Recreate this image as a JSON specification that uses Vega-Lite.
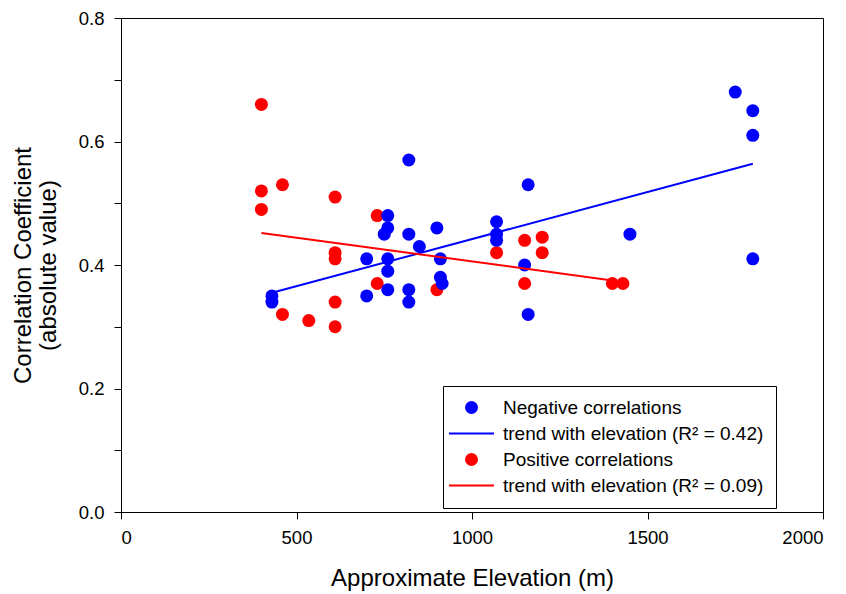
{
  "$schema": "https://vega.github.io/schema/vega-lite/v6.json",
  "width": 702,
  "height": 494,
  "autosize": {"type": "none"},
  "padding": {"left": 121, "top": 18, "right": 23, "bottom": 82},
  "config": {
    "view": {"stroke": "black", "strokeWidth": 1},
    "font": "Liberation Sans",
    "axis": {
      "domainColor": "black",
      "tickColor": "black",
      "labelColor": "black",
      "titleColor": "black",
      "grid": false,
      "tickSize": 7,
      "labelFontSize": 18.5,
      "titleFontSize": 24,
      "titleFontWeight": "normal"
    },
    "legend": {
      "orient": "none",
      "legendX": 322,
      "legendY": 368,
      "strokeColor": "black",
      "padding": 12,
      "labelFontSize": 19,
      "labelColor": "black",
      "labelLimit": 500,
      "labelOffset": 22,
      "symbolOffset": 7,
      "rowPadding": 6,
      "symbolSize": 2025
    }
  },
  "datasets": {
    "points": [
      {"series": "Positive correlations", "elevation": 400, "r": 0.66},
      {"series": "Positive correlations", "elevation": 400, "r": 0.52},
      {"series": "Positive correlations", "elevation": 400, "r": 0.49},
      {"series": "Positive correlations", "elevation": 460, "r": 0.53},
      {"series": "Positive correlations", "elevation": 460, "r": 0.32},
      {"series": "Positive correlations", "elevation": 535, "r": 0.31},
      {"series": "Positive correlations", "elevation": 610, "r": 0.51},
      {"series": "Positive correlations", "elevation": 610, "r": 0.42},
      {"series": "Positive correlations", "elevation": 610, "r": 0.41},
      {"series": "Positive correlations", "elevation": 610, "r": 0.34},
      {"series": "Positive correlations", "elevation": 610, "r": 0.30},
      {"series": "Positive correlations", "elevation": 730, "r": 0.48},
      {"series": "Positive correlations", "elevation": 730, "r": 0.37},
      {"series": "Positive correlations", "elevation": 900, "r": 0.36},
      {"series": "Positive correlations", "elevation": 1070, "r": 0.42},
      {"series": "Positive correlations", "elevation": 1150, "r": 0.44},
      {"series": "Positive correlations", "elevation": 1150, "r": 0.37},
      {"series": "Positive correlations", "elevation": 1200, "r": 0.445},
      {"series": "Positive correlations", "elevation": 1200, "r": 0.42},
      {"series": "Positive correlations", "elevation": 1400, "r": 0.37},
      {"series": "Positive correlations", "elevation": 1430, "r": 0.37},
      {"series": "Negative correlations", "elevation": 430, "r": 0.35},
      {"series": "Negative correlations", "elevation": 430, "r": 0.34},
      {"series": "Negative correlations", "elevation": 700, "r": 0.41},
      {"series": "Negative correlations", "elevation": 700, "r": 0.35},
      {"series": "Negative correlations", "elevation": 760, "r": 0.48},
      {"series": "Negative correlations", "elevation": 760, "r": 0.46},
      {"series": "Negative correlations", "elevation": 750, "r": 0.45},
      {"series": "Negative correlations", "elevation": 760, "r": 0.41},
      {"series": "Negative correlations", "elevation": 760, "r": 0.39},
      {"series": "Negative correlations", "elevation": 760, "r": 0.36},
      {"series": "Negative correlations", "elevation": 820, "r": 0.57},
      {"series": "Negative correlations", "elevation": 820, "r": 0.45},
      {"series": "Negative correlations", "elevation": 820, "r": 0.36},
      {"series": "Negative correlations", "elevation": 820, "r": 0.34},
      {"series": "Negative correlations", "elevation": 850, "r": 0.43},
      {"series": "Negative correlations", "elevation": 900, "r": 0.46},
      {"series": "Negative correlations", "elevation": 910, "r": 0.41},
      {"series": "Negative correlations", "elevation": 910, "r": 0.38},
      {"series": "Negative correlations", "elevation": 915, "r": 0.37},
      {"series": "Negative correlations", "elevation": 1070, "r": 0.47},
      {"series": "Negative correlations", "elevation": 1070, "r": 0.45},
      {"series": "Negative correlations", "elevation": 1070, "r": 0.44},
      {"series": "Negative correlations", "elevation": 1150, "r": 0.40},
      {"series": "Negative correlations", "elevation": 1160, "r": 0.53},
      {"series": "Negative correlations", "elevation": 1160, "r": 0.32},
      {"series": "Negative correlations", "elevation": 1450, "r": 0.45},
      {"series": "Negative correlations", "elevation": 1750, "r": 0.68},
      {"series": "Negative correlations", "elevation": 1800, "r": 0.65},
      {"series": "Negative correlations", "elevation": 1800, "r": 0.61},
      {"series": "Negative correlations", "elevation": 1800, "r": 0.41}
    ],
    "trends": [
      {"series": "trend with elevation (R² = 0.42)", "elevation": 430, "r": 0.355},
      {"series": "trend with elevation (R² = 0.42)", "elevation": 1800, "r": 0.564},
      {"series": "trend with elevation (R² = 0.09)", "elevation": 400, "r": 0.452},
      {"series": "trend with elevation (R² = 0.09)", "elevation": 1400, "r": 0.375}
    ]
  },
  "layer": [
    {
      "data": {"name": "points"},
      "mark": {"type": "circle", "size": 169, "opacity": 1},
      "encoding": {
        "x": {
          "field": "elevation",
          "type": "quantitative",
          "scale": {"domain": [0, 2000], "nice": false},
          "axis": {
            "values": [0, 500, 1000, 1500, 2000],
            "format": "d",
            "title": "Approximate Elevation (m)",
            "labelPadding": 9,
            "titlePadding": 20
          }
        },
        "y": {
          "field": "r",
          "type": "quantitative",
          "scale": {"domain": [0, 0.8], "nice": false, "zero": true},
          "axis": {
            "values": [0, 0.1, 0.2, 0.3, 0.4, 0.5, 0.6, 0.7, 0.8],
            "labelExpr": "round(datum.value*10)%2==0 ? format(datum.value,'.1f') : ''",
            "title": ["Correlation Coefficient", "(absolute value)"],
            "titleLineHeight": 25,
            "labelPadding": 10,
            "titlePadding": 18
          }
        },
        "color": {
          "field": "series",
          "type": "nominal",
          "scale": {
            "domain": ["Negative correlations", "trend with elevation (R² = 0.42)", "Positive correlations", "trend with elevation (R² = 0.09)"],
            "range": ["#0000ff", "#0000ff", "#ff0000", "#ff0000"]
          },
          "legend": {
            "title": null,
            "encode": {
              "symbols": {
                "update": {
                  "shape": {"signal": "datum.index % 2 == 1 ? 'stroke' : 'circle'"},
                  "size": {"signal": "datum.index % 2 == 1 ? 2025 : 169"},
                  "fill": {"signal": "datum.index % 2 == 1 ? 'transparent' : (datum.index < 2 ? '#0000ff' : '#ff0000')"},
                  "stroke": {"signal": "datum.index < 2 ? '#0000ff' : '#ff0000'"},
                  "strokeWidth": {"signal": "datum.index % 2 == 1 ? 2 : 0"},
                  "opacity": {"value": 1}
                }
              }
            }
          }
        }
      }
    },
    {
      "data": {"name": "trends"},
      "mark": {"type": "line", "strokeWidth": 2},
      "encoding": {
        "x": {"field": "elevation", "type": "quantitative"},
        "y": {"field": "r", "type": "quantitative"},
        "color": {
          "field": "series",
          "type": "nominal",
          "legend": {
            "title": null,
            "encode": {
              "symbols": {
                "update": {
                  "shape": {"signal": "datum.index % 2 == 1 ? 'stroke' : 'circle'"},
                  "size": {"signal": "datum.index % 2 == 1 ? 2025 : 169"},
                  "fill": {"signal": "datum.index % 2 == 1 ? 'transparent' : (datum.index < 2 ? '#0000ff' : '#ff0000')"},
                  "stroke": {"signal": "datum.index < 2 ? '#0000ff' : '#ff0000'"},
                  "strokeWidth": {"signal": "datum.index % 2 == 1 ? 2 : 0"},
                  "opacity": {"value": 1}
                }
              }
            }
          }
        },
        "detail": {"field": "series"}
      }
    }
  ]
}
